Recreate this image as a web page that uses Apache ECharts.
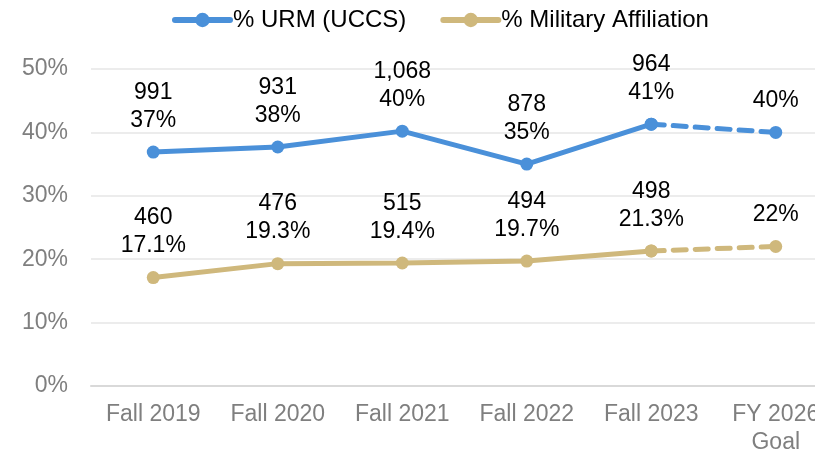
<!DOCTYPE html>
<html>
<head>
<meta charset="utf-8">
<title>URM and Military Affiliation</title>
<script src="https://cdn.jsdelivr.net/npm/echarts@6/dist/echarts.min.js"></script>
<style>
  html, body { margin: 0; padding: 0; background: #fff; }
  #chart { width: 815px; height: 456px; }
</style>
</head>
<body>
<div id="chart"></div>
<script>
// data
var categories = ['Fall 2019', 'Fall 2020', 'Fall 2021', 'Fall 2022', 'Fall 2023', 'FY 2026\nGoal'];
var urmPct = [36.9, 37.7, 40.2, 35.0, 41.3, 40.0];
var urmCount = ['991', '931', '1,068', '878', '964', ''];
var urmLabel = ['37%', '38%', '40%', '35%', '41%', '40%'];
var milPct = [17.1, 19.3, 19.4, 19.7, 21.3, 22.0];
var milCount = ['460', '476', '515', '494', '498', ''];
var milLabel = ['17.1%', '19.3%', '19.4%', '19.7%', '21.3%', '22%'];
var yTicks = [0, 10, 20, 30, 40, 50];

var blue = '#4a90d9';
var gold = '#cfb87c';
var font = '"Liberation Sans", Arial, Helvetica, sans-serif';

// actual years are solid, the step to the goal is dashed
function solidPart(vals) {
  return vals.map(function (v, i) { return i < 5 ? v : '-'; });
}
function goalPart(vals) {
  return vals.map(function (v, i) { return i >= 4 ? v : '-'; });
}
function labelText(counts, pcts) {
  return function (p) {
    return counts[p.dataIndex] ? counts[p.dataIndex] + '\n' + pcts[p.dataIndex] : pcts[p.dataIndex];
  };
}

var labelStyle = {
  show: true,
  position: 'top',
  distance: 11,
  color: '#000',
  fontSize: 23,
  lineHeight: 28,
  fontFamily: font
};

function lineSeries(name, color, data, dashed, counts, pcts) {
  return {
    name: name,
    type: 'line',
    data: data,
    symbol: 'circle',
    symbolSize: 13,
    showAllSymbol: true,
    itemStyle: { color: color },
    lineStyle: { color: color, width: 5, type: dashed ? [13, 9] : 'solid', cap: 'round' },
    label: Object.assign({}, labelStyle, {
      formatter: function (p) {
        if (dashed && p.dataIndex < 5) return '';
        return labelText(counts, pcts)(p);
      }
    }),
    z: dashed ? 2 : 3
  };
}

var myChart = echarts.init(document.getElementById('chart'));

var option = {
  animation: false,
  backgroundColor: '#fff',
  legend: {
    data: ['% URM (UCCS)', '% Military Affiliation'],
    left: 167,
    top: 3,
    itemWidth: 55,
    itemHeight: 18,
    itemGap: 34,
    lineStyle: { width: 6 },
    textStyle: { color: '#000', fontSize: 24, fontFamily: font, padding: [0, 0, 0, -2] }
  },
  grid: { left: 91, top: 69, width: 747, height: 317, containLabel: false, outerBoundsMode: 'none' },
  xAxis: {
    type: 'category',
    data: categories,
    boundaryGap: true,
    axisLine: { lineStyle: { color: '#d9d9d9', width: 2 } },
    axisTick: { show: false },
    axisLabel: {
      color: '#7f7f7f',
      fontSize: 23,
      lineHeight: 28,
      margin: 15,
      interval: 0,
      fontFamily: font
    }
  },
  yAxis: {
    type: 'value',
    min: yTicks[0],
    max: yTicks[yTicks.length - 1],
    interval: 10,
    axisLine: { show: false },
    axisTick: { show: false },
    axisLabel: {
      color: '#7f7f7f',
      fontSize: 23,
      margin: 23,
      fontFamily: font,
      formatter: '{value}%'
    },
    splitLine: { lineStyle: { color: '#ececec', width: 2 } }
  },
  series: [
    lineSeries('% URM (UCCS)', blue, solidPart(urmPct), false, urmCount, urmLabel),
    lineSeries('URM goal', blue, goalPart(urmPct), true, urmCount, urmLabel),
    lineSeries('% Military Affiliation', gold, solidPart(milPct), false, milCount, milLabel),
    lineSeries('Military goal', gold, goalPart(milPct), true, milCount, milLabel)
  ]
};

myChart.setOption(option);
</script>
</body>
</html>
